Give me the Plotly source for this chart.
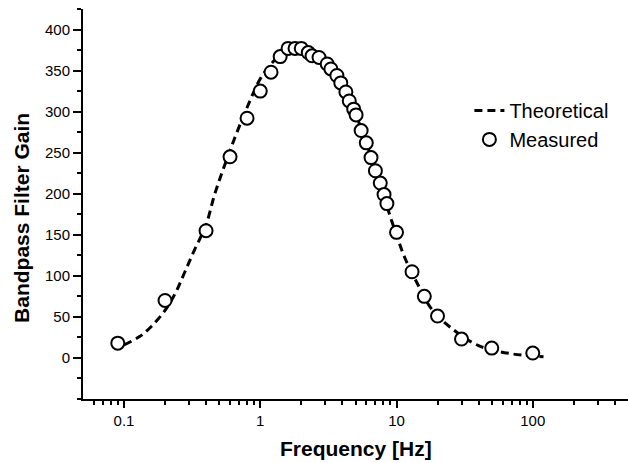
import numpy
import plotly.graph_objects as go

# measured points
meas_f = [0.09, 0.2, 0.4, 0.6, 0.8, 1.0, 1.2, 1.4, 1.6, 1.8, 2.0, 2.25, 2.4, 2.7,
          3.1, 3.3, 3.65, 3.9, 4.25, 4.5, 4.85, 5.05, 5.5, 6.0, 6.5, 7.0, 7.6,
          8.1, 8.5, 10, 13, 16, 20, 30, 50, 100]
meas_gain = [18, 70, 155, 245, 292, 325, 348, 367, 377, 377, 377, 372, 368, 366,
             358, 352, 344, 335, 324, 313, 303, 296, 277, 262, 244, 228, 213,
             199, 188, 153, 105, 75, 51, 23, 12, 6]

# theoretical curve
theo_f = [0.1, 0.13, 0.16, 0.2, 0.24, 0.28, 0.33, 0.4, 0.46, 0.53, 0.65, 0.8, 1.0,
          1.2, 1.5, 1.8, 2.2, 2.7, 3.3, 4, 5, 6, 7, 8, 9, 10, 11.5, 14.5, 18,
          25, 40, 70, 120]
theo_gain = [16, 26, 39, 58, 80, 105, 132, 162, 198, 228, 268, 305, 340,
             358, 373, 378, 375, 367, 352, 330, 297, 262, 230, 200, 172, 150, 122, 88, 60,
             37, 15, 5, 1.5]

x_ticks = [0.1, 1, 10, 100]
x_ticklabels = ["0.1", "1", "10", "100"]
x_minor = [0.06, 0.07, 0.08, 0.09] + [d * m for d in (0.1, 1, 10) for m in range(2, 10)] + [200, 300, 400]
y_ticks = list(range(0, 401, 50))

font = "Liberation Sans, Arial, sans-serif"

fig = go.Figure()
fig.add_trace(go.Scatter(
    x=theo_f, y=theo_gain, mode="lines", name="Theoretical",
    line=dict(color="black", width=3, dash="8px,5px", shape="spline"),
))
fig.add_trace(go.Scatter(
    x=meas_f, y=meas_gain, mode="markers", name="Measured",
    marker=dict(symbol="circle", size=13, color="white",
                line=dict(color="black", width=2)),
))

fig.update_xaxes(
    type="log", range=[numpy.log10(0.05), numpy.log10(500)],
    tickmode="array", tickvals=x_ticks, ticktext=x_ticklabels,
    ticks="outside", ticklen=7, tickwidth=2, tickcolor="black",
    showline=True, linewidth=2, linecolor="black",
    showgrid=False, zeroline=False,
    tickfont=dict(family=font, size=15, color="black"),
    minor=dict(tickmode="array", tickvals=x_minor, ticks="outside",
               ticklen=4, tickwidth=2, tickcolor="black", showgrid=False),
)
fig.update_yaxes(
    range=[-50, 425],
    tickmode="array", tickvals=y_ticks,
    ticks="outside", ticklen=8, tickwidth=2, tickcolor="black",
    showline=True, linewidth=2, linecolor="black",
    showgrid=False, zeroline=False,
    tickfont=dict(family=font, size=15, color="black"),
    minor=dict(dtick=25, tick0=0, ticks="outside", ticklen=4, tickwidth=2,
               tickcolor="black", showgrid=False),
)

fig.add_annotation(text="<b>Frequency [Hz]</b>", xref="paper", yref="paper",
                   x=0.5, y=-0.128, xanchor="center", yanchor="middle",
                   showarrow=False, font=dict(family=font, size=21, color="black"))
fig.add_annotation(text="<b>Bandpass Filter Gain</b>", xref="paper", yref="paper",
                   x=-0.114, y=0.464, xanchor="center", yanchor="middle", textangle=-90,
                   showarrow=False, font=dict(family=font, size=21, color="black"))

fig.update_layout(
    width=628, height=463,
    margin=dict(l=83, r=0, t=9, b=64),
    plot_bgcolor="white", paper_bgcolor="white",
    legend=dict(x=0.709, y=0.79, xanchor="left", yanchor="top",
                font=dict(family=font, size=20, color="black"),
                bgcolor="rgba(0,0,0,0)", itemwidth=30, tracegroupgap=0),
)

fig.write_html("out.html", config={"displayModeBar": False},
               post_script="document.body.style.margin='0';document.body.style.overflow='hidden';")
